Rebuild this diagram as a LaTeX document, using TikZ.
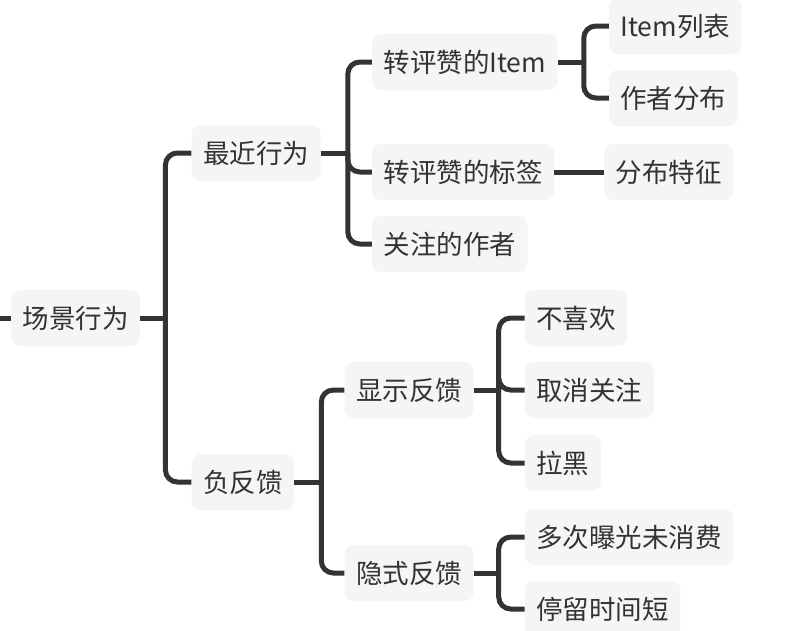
\documentclass[tikz,border=0pt]{standalone}
\usepackage{fontspec}
\setmainfont{Noto Sans CJK SC}
\usetikzlibrary{positioning}
\definecolor{ink}{RGB}{51,51,51}
\definecolor{pale}{RGB}{245,245,245}
\tikzset{
  topic/.style={fill=pale,rounded corners=9pt,inner xsep=11.5pt,inner ysep=0pt,
    minimum height=56pt,text=ink,font=\fontsize{26.5}{30}\selectfont},
  branch/.style={line width=5pt,ink,rounded corners=12pt}
}

\begin{document}
\begin{tikzpicture}[x=1pt,y=-1pt]
  \useasboundingbox (0,0) rectangle (794,630);
  \node[topic,anchor=west] (scene) at (11,318) {场景行为};
  \coordinate (stub) at (0,318);
  % first level
  \node[topic,right=51pt of scene,yshift=165pt] (recent) {最近行为};
  \node[topic,right=51pt of scene,yshift=-164pt] (neg) {负反馈};
  % recent actions
  \node[topic,right=51pt of recent,yshift=91pt] (itemfwd) {转评赞的Item};
  \node[topic,right=51pt of recent,yshift=-19pt] (tagfwd) {转评赞的标签};
  \node[topic,right=51pt of recent,yshift=-91pt] (follow) {关注的作者};
  \node[topic,right=51pt of itemfwd,yshift=36pt] (itemlist) {Item列表};
  \node[topic,right=51pt of itemfwd,yshift=-36pt] (authdist) {作者分布};
  \node[topic,right=50pt of tagfwd] (tagdist) {分布特征};
  % negative feedback
  \node[topic,right=50pt of neg,yshift=92pt] (explicit) {显示反馈};
  \node[topic,right=50pt of neg,yshift=-91pt] (implicit) {隐式反馈};
  \node[topic,right=51pt of explicit,yshift=72pt] (dislike) {不喜欢};
  \node[topic,right=51pt of explicit] (unfollow) {取消关注};
  \node[topic,right=51pt of explicit,yshift=-73pt] (block) {拉黑};
  \node[topic,right=51pt of implicit,yshift=36pt] (exposed) {多次曝光未消费};
  \node[topic,right=51pt of implicit,yshift=-36pt] (staytime) {停留时间短};
  % forks
  \coordinate (scenefork) at ([xshift=25pt]scene.east);
  \coordinate (recentfork) at ([xshift=27pt]recent.east);
  \coordinate (itemfork) at ([xshift=26pt]itemfwd.east);
  \coordinate (negfork) at ([xshift=27pt]neg.east);
  \coordinate (explfork) at ([xshift=25pt]explicit.east);
  \coordinate (implfork) at ([xshift=25pt]implicit.east);
  % connectors
  \draw[branch] (stub) -- (scene.west);
  \draw[branch] (scene.east) -- (scenefork);
  \foreach \c in {recent,neg} {\draw[branch] (scenefork) |- (\c.west);}
  \draw[branch] (recent.east) -- (recentfork);
  \foreach \c in {itemfwd,tagfwd,follow} {\draw[branch] (recentfork) |- (\c.west);}
  \draw[branch] (itemfwd.east) -- (itemfork);
  \foreach \c in {itemlist,authdist} {\draw[branch] (itemfork) |- (\c.west);}
  \draw[branch] (tagfwd.east) -- (tagdist.west);
  \draw[branch] (neg.east) -- (negfork);
  \foreach \c in {explicit,implicit} {\draw[branch] (negfork) |- (\c.west);}
  \draw[branch] (explicit.east) -- (explfork);
  \foreach \c in {dislike,unfollow,block} {\draw[branch] (explfork) |- (\c.west);}
  \draw[branch] (implicit.east) -- (implfork);
  \foreach \c in {exposed,staytime} {\draw[branch] (implfork) |- (\c.west);}
\end{tikzpicture}
\end{document}
